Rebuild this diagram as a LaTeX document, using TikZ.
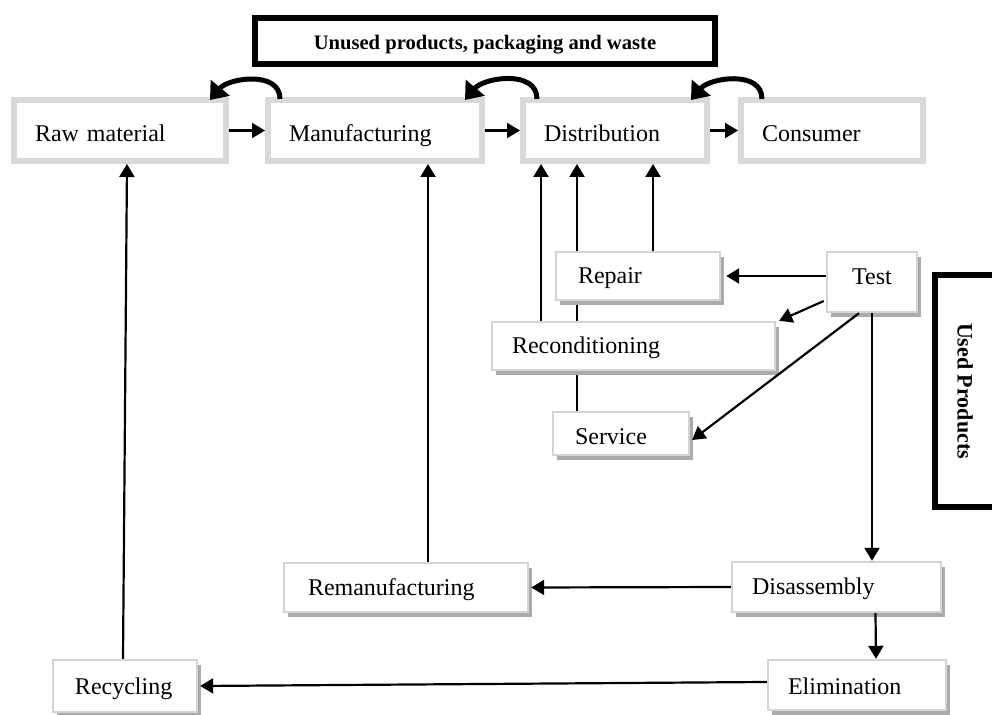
\documentclass[tikz,border=0pt]{standalone}
\usepackage{fontspec}
\setmainfont{Liberation Serif}
\usetikzlibrary{arrows.meta,shadows,backgrounds}

\definecolor{boxgray}{HTML}{D9D9D9}
\definecolor{subgray}{HTML}{D4D4D4}
\definecolor{shadowgray}{HTML}{ABABAB}

\tikzset{
  txt/.style={font=\fontsize{12}{14}\selectfont, text height=8pt, text depth=0pt},
  mainbox/.style={txt, draw=boxgray, line width=3pt, fill=white,
    minimum height=30.5pt, inner xsep=10.5pt, align=left, text height=11.5pt},
  subbox/.style={txt, draw=subgray, line width=1.2pt, fill=white, align=left,
    drop shadow={shadow xshift=1.8pt, shadow yshift=-2.5pt, fill=shadowgray, opacity=1}},
  framebox/.style={draw=black, line width=3pt, fill=white,
    font=\bfseries\fontsize{10.3}{12}\selectfont},
  conn/.style={line width=1.1pt, -{Triangle[length=6.5pt,width=7.5pt]}},
  loopback/.style={line width=2.5pt, -{Triangle[length=8pt,width=12pt]}}
}

\begin{document}
\begin{tikzpicture}[x=0.5pt, y=-0.5pt]
\useasboundingbox (0,0) rectangle (992,715);

% headline frame
\node[framebox, minimum width=230pt, minimum height=23pt, text height=8.5pt, text depth=0pt]
  (unused) at (485,41) {Unused products, packaging and waste};

% forward chain
\node[mainbox, text width=85pt] (raw)  at (120,130.5) {Raw material};
\node[mainbox, text width=86pt] (mfg)  at (375,130.5) {Manufacturing};
\node[mainbox, text width=71pt] (dist) at (615,130.5) {Distribution};
\node[mainbox, text width=70pt] (cons) at (832,130.5) {Consumer};

% recovery options
\node[subbox, text width=60pt, inner xsep=11pt, minimum height=24pt] (repair) at (638,276) {Repair};
\node[subbox, text width=45pt, inner xsep=0pt, align=center, minimum height=30pt, text depth=5pt] (test) at (872,282) {Test};
\node[subbox, text width=121.5pt, inner xsep=10pt, minimum height=24pt] (recon) at (633.5,346) {Reconditioning};
\node[subbox, text width=46pt, inner xsep=11pt, minimum height=21.5pt, text height=11.5pt] (service) at (621,433.5) {Service};
\node[subbox, text width=98pt, inner xsep=12pt, minimum height=24.5pt] (reman) at (406,587.5) {Remanufacturing};
\node[subbox, text width=84.5pt, inner xsep=10pt, minimum height=25pt] (disas) at (836.5,587) {Disassembly};
\node[subbox, text width=69pt, inner xsep=10pt, minimum height=25pt, text height=10pt] (elim) at (857,685) {Elimination};
\node[subbox, text width=50pt, inner xsep=11pt, minimum height=26pt, text height=9pt] (recyc) at (125,686) {Recycling};

% side frame, running off the right edge
\node[framebox, rotate=-90, minimum width=116pt, minimum height=30pt,
  font=\bfseries\fontsize{11}{13}\selectfont] (used) at (965,391) {Used Products};

% chain arrows
\draw[conn] (raw.east) -- (mfg.west);
\draw[conn] (mfg.east) -- (dist.west);
\draw[conn] (dist.east) -- (cons.west);

% returns of unused products
\draw[loopback] ([xshift=7.5pt,yshift=-1pt]mfg.north west) to[out=90, in=50, looseness=1.05] ([xshift=-9.5pt,yshift=-1.5pt]raw.north east);
\draw[loopback] ([xshift=8.5pt,yshift=-1pt]dist.north west) to[out=90, in=50, looseness=1.05] ([xshift=-10pt,yshift=-1.5pt]mfg.north east);
\draw[loopback] ([xshift=12pt,yshift=-1pt]cons.north west) to[out=90, in=50, looseness=1.05] ([xshift=-9.5pt,yshift=-1.5pt]dist.north east);

% used products back into the chain
\begin{scope}[on background layer]
  \draw[conn] ([xshift=-22pt]service.north) -- ([xshift=-19pt]dist.south);
\end{scope}
\draw[conn] ([xshift=-46.25pt]recon.north) -- ([xshift=-37pt]dist.south);
\draw[conn] ([xshift=7.5pt]repair.north) -- ([xshift=19pt]dist.south);
\draw[conn] ([xshift=11pt]reman.north) -- ([xshift=26.5pt]mfg.south);
\draw[conn] ([xshift=-1pt]recyc.north) -- ([xshift=3.5pt]raw.south);

% branches from the test
\draw[conn] ([yshift=3pt]test.west) -- ([xshift=2.5pt]repair.east);
\draw[conn] ([yshift=-9.5pt,xshift=-1pt]test.west) -- ([xshift=1.5pt]recon.north east);
\draw[conn] ([xshift=-6.5pt]test.south) -- ([xshift=1pt,yshift=-3.25pt]service.east);
\draw[conn] (test.south) -- (test.south |- disas.north);

% disassembly outputs
\draw[conn] (disas.west) -- ([xshift=1pt]reman.east);
\draw[conn] ([xshift=19.5pt]disas.south) -- ([xshift=9.5pt]elim.north);
\draw[conn] ([yshift=1.5pt]elim.west) -- ([xshift=1pt]recyc.east);
\end{tikzpicture}
\end{document}
